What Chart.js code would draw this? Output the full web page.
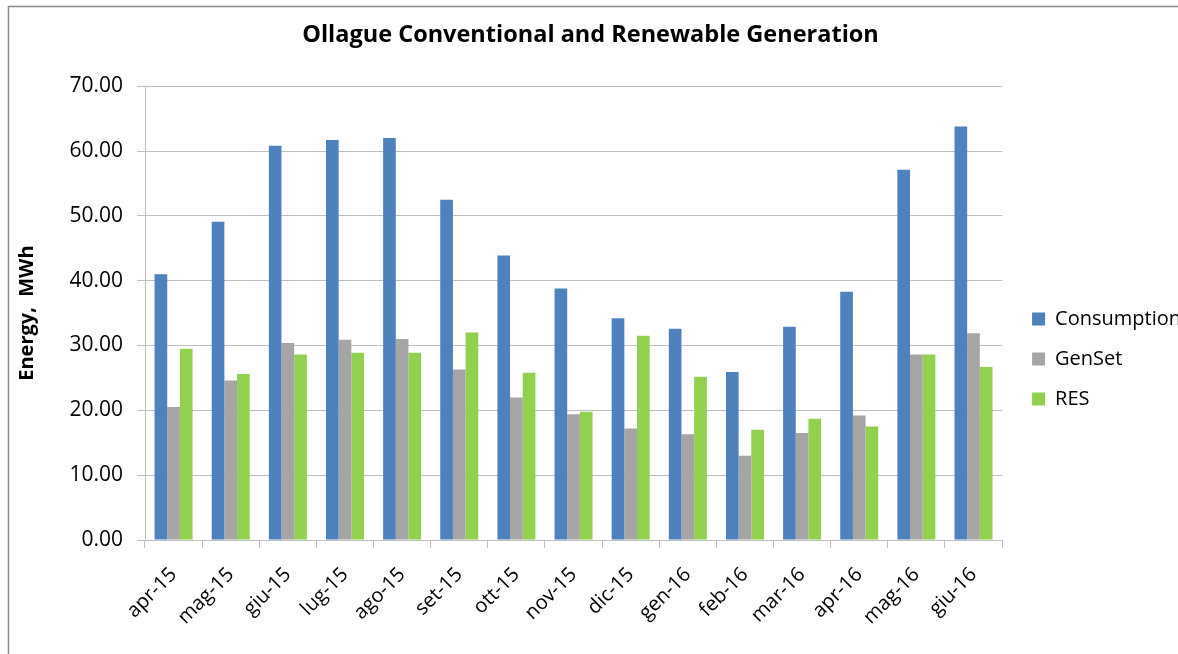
<!DOCTYPE html>
<html>
<head>
<meta charset="utf-8">
<script src="https://cdn.jsdelivr.net/npm/chart.js@4"></script>
<style>
  html, body { margin: 0; padding: 0; background: #fff; overflow: hidden; }
  #wrap { position: absolute; left: 0; top: 0; width: 1200px; height: 654px; }
</style>
</head>
<body>
<div id="wrap"><canvas id="chart" width="1200" height="654"></canvas></div>
<script>
const months = ["apr-15", "mag-15", "giu-15", "lug-15", "ago-15", "set-15", "ott-15", "nov-15",
  "dic-15", "gen-16", "feb-16", "mar-16", "apr-16", "mag-16", "giu-16"];
const consumption = [41.0, 49.1, 60.8, 61.7, 62.0, 52.5, 43.9, 38.8, 34.2, 32.6, 25.9, 32.9, 38.3, 57.1, 63.8];
const genset = [20.5, 24.6, 30.4, 30.9, 31.0, 26.3, 22.0, 19.4, 17.2, 16.3, 13.0, 16.5, 19.2, 28.6, 31.9];
const res = [29.5, 25.6, 28.6, 28.9, 28.9, 32.0, 25.8, 19.8, 31.5, 25.2, 17.0, 18.7, 17.5, 28.6, 26.7];

const FONT = '"Open Sans", "DejaVu Sans", sans-serif';
const GRID = "#bfbfbf";

// white background + the thin frame on the left/top edges
const framePlugin = {
  id: "frame",
  beforeDraw(chart) {
    const ctx = chart.ctx;
    ctx.save();
    ctx.fillStyle = "#fff";
    ctx.fillRect(0, 0, chart.width, chart.height);
    ctx.strokeStyle = "#8c8c8c";
    ctx.lineWidth = 1.5;
    ctx.beginPath();
    ctx.moveTo(8.5, chart.height);
    ctx.lineTo(8.5, 6.5);
    ctx.lineTo(chart.width, 6.5);
    ctx.stroke();
    ctx.restore();
  }
};

// nudge the legend to where Excel put it
const legendShift = {
  id: "legendShift",
  afterLayout(chart) {
    const lg = chart.legend;
    lg.left += 10; lg.right += 10;
    lg.top += 32; lg.bottom += 32;
  }
};

new Chart(document.getElementById("chart"), {
  type: "bar",
  data: {
    labels: months,
    datasets: [
      { label: "Consumption", data: consumption, backgroundColor: "#4f81bd" },
      { label: "GenSet", data: genset, backgroundColor: "#a5a5a5" },
      { label: "RES", data: res, backgroundColor: "#92d050" }
    ]
  },
  options: {
    responsive: false,
    animation: false,
    layout: { padding: { left: 0, right: 19, top: 0, bottom: 0 } },
    datasets: { bar: { barPercentage: 1, categoryPercentage: 0.665 } },
    plugins: {
      title: {
        display: true,
        text: "Ollague Conventional and Renewable Generation",
        color: "#000",
        font: { family: FONT, size: 23.5, weight: "bold" },
        padding: { top: 21, bottom: 37 }
      },
      legend: {
        position: "right",
        labels: {
          color: "#000",
          font: { family: FONT, size: 20 },
          boxWidth: 13,
          boxHeight: 13,
          padding: 20
        }
      },
      tooltip: { enabled: false }
    },
    scales: {
      x: {
        grid: { display: true, drawOnChartArea: false, drawTicks: true, tickLength: 8, color: GRID, offset: true },
        border: { color: GRID },
        ticks: { color: "#000", font: { family: FONT, size: 20 }, minRotation: 45, maxRotation: 45, padding: 15 },
        afterFit(s) { s.height = 114; }
      },
      y: {
        min: 0,
        max: 70,
        ticks: {
          stepSize: 10,
          color: "#000",
          font: { family: FONT, size: 21 },
          padding: 14,
          callback: v => v.toFixed(2)
        },
        grid: { color: GRID, tickLength: 8 },
        border: { color: GRID },
        title: {
          display: true,
          text: "Energy,  MWh",
          color: "#000",
          font: { family: FONT, size: 20, weight: "bold" },
          padding: { top: 15, bottom: 0 }
        },
        afterFit(s) { s.width = 145; }
      }
    }
  },
  plugins: [framePlugin, legendShift]
});
</script>
</body>
</html>
